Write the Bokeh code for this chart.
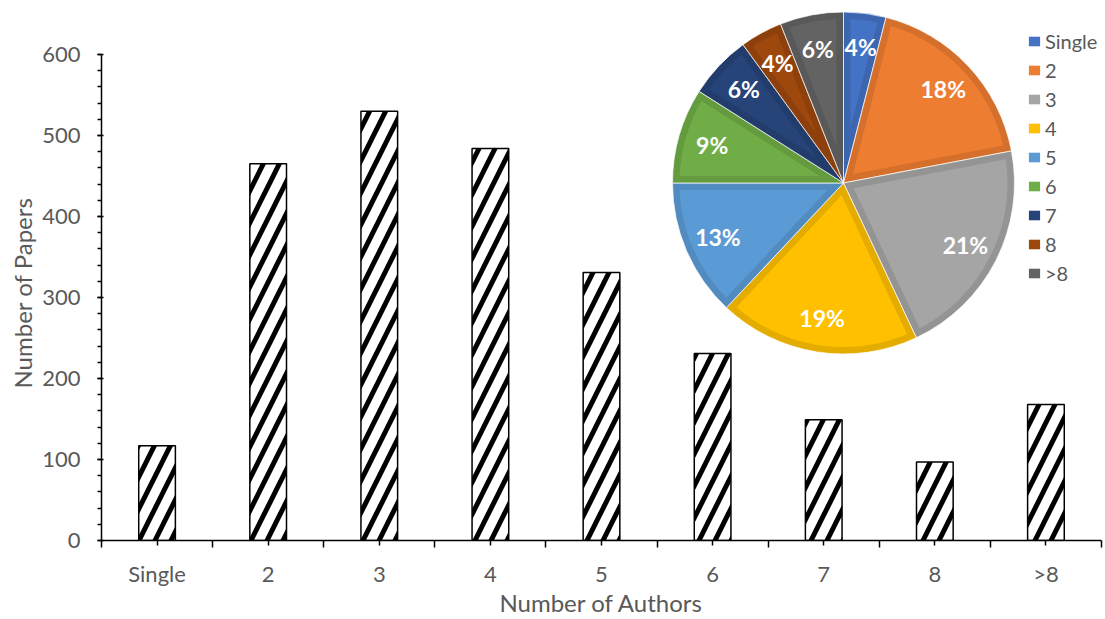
import math
import numpy as np
from bokeh.plotting import figure
from bokeh.models import (Range1d, FixedTicker, SingleIntervalTicker, Legend,
                          LegendItem, ColumnDataSource, Title)
from bokeh.core.properties import value
from bokeh.embed import file_html
from bokeh.resources import INLINE

# ---- data -------------------------------------------------------------
categories = ["Single", "2", "3", "4", "5", "6", "7", "8", ">8"]
papers = [117, 465, 530, 484, 331, 231, 149, 97, 168]
share_pct = [4, 18, 21, 19, 13, 9, 6, 4, 6]
slice_colors = ["#4472C4", "#ED7D31", "#A5A5A5", "#FFC000", "#5B9BD5",
                "#70AD47", "#264478", "#9E480E", "#636363"]
y_ticks = [0, 100, 200, 300, 400, 500, 600]

FONT = "Lato"
TXT = "#595959"

W, H = 1105, 619
LEFT, RIGHT, BOTTOM = 101, 4, 79
FRAME_W = W - LEFT - RIGHT
FRAME_H = H - BOTTOM
AXIS_PX = 486  # pixel height of the 0..600 span

p = figure(width=W, height=H, output_backend="svg", toolbar_location=None,
           x_range=Range1d(0, len(categories)),
           y_range=Range1d(0, 600 * FRAME_H / AXIS_PX),
           min_border_left=LEFT, min_border_right=RIGHT,
           min_border_top=0, min_border_bottom=BOTTOM)
p.outline_line_color = None
p.xgrid.visible = False
p.ygrid.visible = False
p.background_fill_color = "white"
p.border_fill_color = "white"

# pixel-space ranges for the inset pie
p.extra_x_ranges["px"] = Range1d(0, FRAME_W)
p.extra_y_ranges["px"] = Range1d(0, FRAME_H)

# ---- bars -------------------------------------------------------------
centers = [i + 0.5 for i in range(len(categories))]
bars = ColumnDataSource(dict(x=centers, top=papers))
p.vbar(x="x", top="top", width=0.33, source=bars, fill_color="white",
       line_color="black", line_width=1.5, hatch_pattern="/",
       hatch_color="black", hatch_weight=5, hatch_scale=32)

# ---- axes -------------------------------------------------------------
xa = p.xaxis[0]
xa.ticker = FixedTicker(ticks=centers, minor_ticks=list(range(len(categories) + 1)))
xa.major_label_overrides = {c: lab for c, lab in zip(centers, categories)}
xa.axis_line_color = "black"
xa.axis_line_width = 1.5
xa.major_tick_line_color = "black"
xa.minor_tick_line_color = "black"
xa.major_tick_line_width = 1.5
xa.minor_tick_line_width = 1.5
xa.major_tick_out = 5
xa.major_tick_in = 0
xa.minor_tick_out = 7
xa.minor_tick_in = 0
xa.major_label_text_font = FONT
xa.major_label_text_font_size = "22px"
xa.major_label_text_color = TXT
xa.major_label_standoff = 12
xa.axis_label = "Number of Authors"
xa.axis_label_text_font = FONT
xa.axis_label_text_font_size = "24px"
xa.axis_label_text_font_style = "normal"
xa.axis_label_text_color = TXT
xa.axis_label_standoff = -2

ya = p.yaxis[0]
ya.ticker = SingleIntervalTicker(interval=100, num_minor_ticks=5)
ya.bounds = (y_ticks[0], y_ticks[-1])
ya.axis_line_color = "black"
ya.axis_line_width = 1.5
ya.major_tick_line_color = "black"
ya.minor_tick_line_color = "black"
ya.major_tick_line_width = 1.5
ya.minor_tick_line_width = 1.5
ya.major_tick_out = 4
ya.major_tick_in = 2
ya.minor_tick_out = 4
ya.minor_tick_in = 0
ya.major_label_text_font = FONT
ya.major_label_text_font_size = "22px"
ya.major_label_text_color = TXT
ya.major_label_standoff = 17

# y-axis title centred on the 0..600 span rather than on the whole frame
p.add_layout(Title(text="Number of Papers", align="left", offset=152,
                   standoff=6, text_font=FONT, text_font_size="24px",
                   text_font_style="normal", text_color=TXT), "left")

# ---- pie (pixel coordinates inside the frame) --------------------------
CX, CY, R, BAND = 742, FRAME_H - 182.5, 171, 7


def darker(hex_color, f=0.9):
    h = hex_color.lstrip("#")
    r, g, b = (int(h[i:i + 2], 16) for i in (0, 2, 4))
    return "#%02x%02x%02x" % (int(r * f), int(g * f), int(b * f))


cum = np.concatenate([[0], np.cumsum(share_pct)]) / sum(share_pct)
starts = [math.pi / 2 - 2 * math.pi * c for c in cum[1:]]
ends = [math.pi / 2 - 2 * math.pi * c for c in cum[:-1]]

outer = ColumnDataSource(dict(x=[CX] * len(share_pct), y=[CY] * len(share_pct),
                              start=starts, end=ends,
                              color=[darker(c) for c in slice_colors]))
p.wedge(x="x", y="y", radius=R, radius_units="screen", start_angle="start",
        end_angle="end", direction="anticlock", source=outer,
        fill_color="color", line_color="white", line_width=1, line_alpha=0.7,
        x_range_name="px", y_range_name="px")

xs, ys = [], []
for a_lo, a_hi in zip(starts, ends):
    half = (a_hi - a_lo) / 2
    mid = (a_hi + a_lo) / 2
    apex = BAND / math.sin(half)
    r_in = R - BAND
    delta = math.asin(BAND / r_in)
    arc = np.linspace(a_lo + delta, a_hi - delta, 60)
    xs.append([CX + apex * math.cos(mid)] + list(CX + r_in * np.cos(arc)))
    ys.append([CY + apex * math.sin(mid)] + list(CY + r_in * np.sin(arc)))

inner = ColumnDataSource(dict(xs=xs, ys=ys, color=slice_colors))
inner_r = p.patches(xs="xs", ys="ys", source=inner, fill_color="color",
                    line_color=None, x_range_name="px", y_range_name="px")

mids = [(a + b) / 2 for a, b in zip(starts, ends)]
LR = 0.8 * R
labels = ColumnDataSource(dict(
    x=[CX + LR * math.cos(m) for m in mids],
    y=[CY + LR * math.sin(m) for m in mids],
    text=[f"{v}%" for v in share_pct]))
p.text(x="x", y="y", text="text", source=labels, text_color="white",
       text_font=value(FONT), text_font_style="bold", text_font_size="23px",
       text_align="center", text_baseline="middle",
       x_range_name="px", y_range_name="px")

legend = Legend(items=[LegendItem(label=cat, renderers=[inner_r], index=i)
                       for i, cat in enumerate(categories)],
                location=(926, FRAME_H - 285), orientation="vertical",
                background_fill_alpha=0, border_line_color=None,
                padding=0, margin=0, spacing=5,
                glyph_width=14, glyph_height=12, label_height=22,
                label_standoff=4, label_text_font=FONT,
                label_text_font_size="20px", label_text_color=TXT)
p.add_layout(legend)

open("out.html", "w").write(file_html(p, INLINE))
